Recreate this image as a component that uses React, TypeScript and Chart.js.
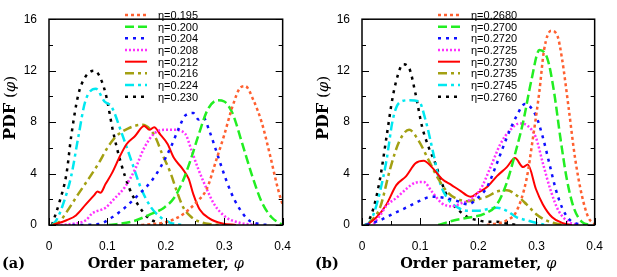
import React, { useEffect, useRef } from "react";
import { Chart, registerables } from "chart.js";
Chart.register(...registerables);

type Pt = [number, number];

const xTicks = [0, 0.1, 0.2, 0.3, 0.4];
const yTicks = [0, 4, 8, 12, 16];

const etaA = ["0.195", "0.200", "0.204", "0.208", "0.212", "0.216", "0.224", "0.230"];
const etaB = ["0.2680", "0.2700", "0.2720", "0.2725", "0.2730", "0.2735", "0.2745", "0.2760"];

// Panel (a)
const a195: Pt[] = [[0.158,0],[0.203,0.25],[0.23,0.86],[0.253,1.8],[0.27,2.8],[0.286,5.0],[0.3,7.0],[0.314,9.2],[0.328,10.7],[0.336,10.8],[0.35,9.7],[0.364,8.0],[0.378,5.5],[0.392,2.8],[0.4,1.6],[0.41,0.8]];
const a200: Pt[] = [[0.102,0],[0.141,0.25],[0.175,0.86],[0.197,1.35],[0.214,2.1],[0.228,3.3],[0.242,5.0],[0.256,7.0],[0.272,9.0],[0.289,9.7],[0.3,9.6],[0.314,8.7],[0.331,6.3],[0.348,3.8],[0.364,1.8],[0.381,0.6],[0.398,0.05]];
const a204: Pt[] = [[0.04,0],[0.085,0.07],[0.108,0.6],[0.13,1.35],[0.152,2.3],[0.175,3.4],[0.191,4.5],[0.208,6.0],[0.222,7.5],[0.233,8.5],[0.247,8.7],[0.256,8.2],[0.264,8.35],[0.275,7.25],[0.286,5.8],[0.297,4.3],[0.311,2.6],[0.325,1.35],[0.342,0.37],[0.364,0.05],[0.38,0]];
const a208: Pt[] = [[0.02,0],[0.04,0.1],[0.063,0.37],[0.074,0.9],[0.097,1.35],[0.113,2.1],[0.13,2.95],[0.147,4.3],[0.163,6.0],[0.18,7.1],[0.197,7.4],[0.214,7.4],[0.233,7.1],[0.244,5.8],[0.256,4.3],[0.27,2.8],[0.283,1.6],[0.303,0.6],[0.32,0.25],[0.342,0.05],[0.36,0]];
const a212: Pt[] = [[0.007,0],[0.03,0.37],[0.046,0.74],[0.063,1.6],[0.077,2.3],[0.083,2.6],[0.088,2.5],[0.097,3.2],[0.108,4.05],[0.122,5.4],[0.133,6.3],[0.147,6.9],[0.163,7.7],[0.172,7.4],[0.18,7.6],[0.191,7.0],[0.203,6.3],[0.214,5.2],[0.228,4.4],[0.239,3.6],[0.247,2.4],[0.258,1.2],[0.275,0.5],[0.297,0.12],[0.32,0]];
const a216: Pt[] = [[0.005,0],[0.018,0.25],[0.03,1.0],[0.05,2.4],[0.065,3.4],[0.085,4.8],[0.1,6.0],[0.115,6.9],[0.135,7.5],[0.16,7.8],[0.18,7.0],[0.194,5.5],[0.208,4.05],[0.219,2.6],[0.23,1.35],[0.244,0.6],[0.258,0.25],[0.275,0.07],[0.3,0]];
const a224: Pt[] = [[0.005,0],[0.013,0.4],[0.024,1.6],[0.038,3.8],[0.05,6.8],[0.062,9.6],[0.08,10.6],[0.095,9.6],[0.107,9.2],[0.124,7.2],[0.141,5.0],[0.158,2.8],[0.175,1.35],[0.191,0.6],[0.208,0.17],[0.23,0]];
const a230: Pt[] = [[0.005,0],[0.018,1.8],[0.03,4.0],[0.038,6.9],[0.05,10.1],[0.062,11.5],[0.077,12.0],[0.085,11.7],[0.097,10.2],[0.11,7.2],[0.122,5.0],[0.138,2.8],[0.152,1.6],[0.169,0.6],[0.186,0.17],[0.2,0]];

// Panel (b)
const b2680: Pt[] = [[0.215,0],[0.249,0.37],[0.266,1.1],[0.283,3.6],[0.294,6.8],[0.305,10.4],[0.313,13.6],[0.325,15.1],[0.336,14.7],[0.344,12.9],[0.355,9.2],[0.366,5.3],[0.378,2.3],[0.389,0.6],[0.4,0.07]];
const b2700: Pt[] = [[0.131,0],[0.159,0.37],[0.187,0.6],[0.21,0.86],[0.232,1.6],[0.249,3.3],[0.263,5.5],[0.277,8.0],[0.291,11.2],[0.305,13.6],[0.319,12.9],[0.33,10.4],[0.341,6.8],[0.352,3.6],[0.364,1.35],[0.378,0.25],[0.394,0]];
const b2720: Pt[] = [[0.008,0],[0.031,0.37],[0.053,0.86],[0.076,1.35],[0.098,1.85],[0.12,2.2],[0.143,2.1],[0.165,1.85],[0.182,1.6],[0.199,2.1],[0.215,2.95],[0.232,4.8],[0.249,6.8],[0.266,8.5],[0.28,9.4],[0.299,8.5],[0.311,6.8],[0.322,4.8],[0.333,2.8],[0.344,1.35],[0.355,0.5],[0.372,0.07],[0.39,0]];
const b2725: Pt[] = [[0.02,0.07],[0.031,0.74],[0.042,1.5],[0.059,2.1],[0.076,2.8],[0.092,3.3],[0.106,3.35],[0.12,2.6],[0.137,1.7],[0.154,1.45],[0.171,1.7],[0.187,2.0],[0.204,2.8],[0.221,4.5],[0.238,6.3],[0.255,7.4],[0.271,7.9],[0.285,7.7],[0.299,6.8],[0.311,4.8],[0.325,2.6],[0.338,1.1],[0.355,0.25],[0.372,0]];
const b2730: Pt[] = [[0.008,0],[0.025,0.6],[0.042,1.6],[0.059,3.1],[0.076,3.8],[0.092,4.8],[0.106,5.0],[0.12,4.5],[0.137,3.6],[0.154,3.1],[0.171,2.6],[0.18,2.3],[0.187,2.2],[0.199,2.5],[0.215,2.95],[0.232,3.8],[0.249,4.5],[0.263,5.2],[0.277,4.5],[0.285,4.7],[0.299,2.8],[0.311,1.6],[0.327,0.6],[0.344,0.17],[0.361,0]];
const b2735: Pt[] = [[0.011,0.07],[0.031,1.35],[0.048,4.3],[0.064,6.5],[0.081,7.4],[0.098,6.5],[0.115,5.0],[0.131,3.6],[0.148,2.5],[0.165,2.0],[0.182,1.85],[0.199,2.0],[0.215,2.2],[0.232,2.6],[0.249,2.7],[0.266,2.3],[0.283,1.6],[0.299,0.86],[0.316,0.37],[0.333,0.12],[0.35,0]];
const b2745: Pt[] = [[0.005,0],[0.011,0.12],[0.02,0.86],[0.031,2.6],[0.042,5.0],[0.053,8.2],[0.064,9.5],[0.081,9.7],[0.098,9.6],[0.109,8.2],[0.123,5.5],[0.134,3.3],[0.148,2.0],[0.165,1.35],[0.182,1.1],[0.199,1.1],[0.215,1.23],[0.232,1.35],[0.249,1.1],[0.266,0.6],[0.283,0.37],[0.299,0.17],[0.316,0]];
const b2760: Pt[] = [[0.005,0],[0.008,0.07],[0.02,1.35],[0.031,3.6],[0.042,6.8],[0.053,10],[0.064,12.0],[0.07,12.5],[0.081,12.2],[0.092,10.2],[0.103,7.7],[0.115,6.0],[0.126,4.8],[0.137,3.3],[0.148,2.1],[0.165,1.2],[0.182,0.6],[0.199,0.37],[0.215,0.25],[0.232,0.25],[0.249,0.12],[0.266,0]];

const seriesA = [a195, a200, a204, a208, a212, a216, a224, a230];
const seriesB = [b2680, b2700, b2720, b2725, b2730, b2735, b2745, b2760];

const colors = ["#ff6030", "#22ee22", "#1010ff", "#ff30ff", "#ff0000", "#a3a012", "#00e8f0", "#000000"];
const dashes: number[][] = [[3, 3], [9, 4], [3, 5], [2, 2], [], [9, 4, 3, 4], [9, 4, 3, 4], [3, 5]];
const widths = [2.5, 2.5, 2.5, 2.5, 2, 2.5, 2.5, 2.5];

const H = 277;

function makePlugin(tag: string, labels: string[]) {
  return {
    id: "deco",
    afterDraw(chart: any) {
      const { ctx, chartArea: a } = chart;
      const xs = chart.scales.x;
      const ys = chart.scales.y;
      ctx.save();
      ctx.strokeStyle = "#000";
      ctx.lineWidth = 1;
      const line = (x1: number, y1: number, x2: number, y2: number) => {
        ctx.beginPath();
        ctx.moveTo(x1, y1);
        ctx.lineTo(x2, y2);
        ctx.stroke();
      };
      const yStep = (yTicks[1] - yTicks[0]) / 2;
      for (let k = 0; k <= (yTicks[yTicks.length - 1] - yTicks[0]) / yStep; k++) {
        const v = yTicks[0] + k * yStep;
        const py = Math.round(ys.getPixelForValue(v)) + 0.5;
        const len = k % 2 === 0 ? 7 : 4;
        line(a.left, py, a.left + len, py);
        line(a.right - len, py, a.right, py);
      }
      const xStep = (xTicks[1] - xTicks[0]) / 2;
      const nx = Math.round((xTicks[xTicks.length - 1] - xTicks[0]) / xStep);
      for (let k = 0; k <= nx; k++) {
        const v = xTicks[0] + k * xStep;
        const px = Math.round(xs.getPixelForValue(v)) + 0.5;
        const len = k % 2 === 0 ? 7 : 4;
        line(px, a.bottom, px, a.bottom - len);
      }
      ctx.lineWidth = 1.5;
      ctx.strokeRect(a.left, a.top, a.right - a.left, a.bottom - a.top);

      // legend
      ctx.font = "11px 'Liberation Sans', Arial, sans-serif";
      ctx.textBaseline = "middle";
      ctx.textAlign = "left";
      ctx.fillStyle = "#000";
      const lx0 = a.left + 76;
      labels.forEach((lab, i) => {
        const y = 15 + i * 11.67;
        ctx.save();
        ctx.strokeStyle = colors[i];
        ctx.lineWidth = widths[i];
        ctx.setLineDash(dashes[i]);
        line(lx0, y, lx0 + 22, y);
        ctx.restore();
        ctx.fillText("η=" + lab, lx0 + 33, y + 1);
      });

      // x title
      const cx = (a.left + a.right) / 2;
      const fb = "bold 14.5px 'DejaVu Serif', serif";
      const fi = "italic 14.5px 'DejaVu Serif', serif";
      const t1 = "Order parameter, ";
      const t2 = "φ";
      ctx.font = fb;
      const w1 = ctx.measureText(t1).width;
      ctx.font = fi;
      const w2 = ctx.measureText(t2).width;
      const x = cx - (w1 + w2) / 2;
      ctx.font = fb;
      ctx.fillText(t1, x, 264);
      ctx.font = fi;
      ctx.fillText(t2, x + w1, 264);

      // panel tag
      ctx.font = fb;
      ctx.fillText(tag, a.left - 47, 264);

      // y title
      const parts: [string, string][] = [
        ["PDF", "bold 16px 'DejaVu Serif', serif"],
        [" (", "15px 'DejaVu Serif', serif"],
        ["φ", "italic 15px 'DejaVu Serif', serif"],
        [")", "15px 'DejaVu Serif', serif"],
      ];
      let total = 0;
      const ws = parts.map(([s, f]) => {
        ctx.font = f;
        const w = ctx.measureText(s).width;
        total += w;
        return w;
      });
      ctx.save();
      ctx.translate(a.left - 38, 108);
      ctx.rotate(-Math.PI / 2);
      let px = -total / 2;
      parts.forEach(([s, f], i) => {
        ctx.font = f;
        ctx.fillText(s, px, 0);
        px += ws[i];
      });
      ctx.restore();
      ctx.restore();
    },
  };
}

function Panel(props: { series: Pt[][]; labels: string[]; tag: string; left: number; width: number; plotLeft: number; plotRight: number }) {
  const ref = useRef<HTMLCanvasElement>(null);
  useEffect(() => {
    const canvas = ref.current!;
    const tickFont = { family: "'Liberation Sans', Arial, sans-serif", size: 12 };
    const chart = new Chart(canvas, {
      type: "line",
      data: {
        datasets: props.series.map((pts, i) => ({
          label: "η=" + props.labels[i],
          data: pts.map(([x, y]) => ({ x, y })),
          borderColor: colors[i],
          borderWidth: widths[i],
          borderDash: dashes[i],
          pointRadius: 0,
          fill: false,
          cubicInterpolationMode: "monotone" as const,
        })),
      },
      options: {
        animation: false,
        responsive: false,
        maintainAspectRatio: false,
        events: [],
        layout: { padding: { left: 0, right: props.width - props.plotRight, top: 8, bottom: 0 } },
        plugins: { legend: { display: false }, tooltip: { enabled: false } },
        scales: {
          x: {
            type: "linear",
            min: xTicks[0],
            max: xTicks[xTicks.length - 1],
            afterBuildTicks: (s: any) => { s.ticks = xTicks.map((v) => ({ value: v })); },
            ticks: { padding: 14, font: tickFont, color: "#000", callback: (v: any) => String(Math.round(Number(v) * 10) / 10) },
            grid: { display: false, drawTicks: false },
            border: { display: false },
            afterFit: (s: any) => { s.height = H - 225; },
          },
          y: {
            type: "linear",
            min: yTicks[0],
            max: yTicks[yTicks.length - 1],
            afterBuildTicks: (s: any) => { s.ticks = yTicks.map((v) => ({ value: v })); },
            ticks: { padding: 12, font: tickFont, color: "#000" },
            grid: { display: false, drawTicks: false },
            border: { display: false },
            afterFit: (s: any) => { s.width = props.plotLeft; },
          },
        },
      },
      plugins: [makePlugin(props.tag, props.labels)],
    } as any);
    return () => chart.destroy();
  }, []);
  return (
    <canvas
      ref={ref}
      width={props.width}
      height={H}
      style={{ position: "absolute", left: props.left, top: 0, width: props.width, height: H }}
    />
  );
}

export default function App() {
  return (
    <div style={{ position: "absolute", left: 0, top: 0, width: 617, height: H, background: "#fff" }}>
      <Panel series={seriesA} labels={etaA} tag="(a)" left={0} width={305} plotLeft={49} plotRight={288} />
      <Panel series={seriesB} labels={etaB} tag="(b)" left={305} width={312} plotLeft={57} plotRight={295} />
    </div>
  );
}
